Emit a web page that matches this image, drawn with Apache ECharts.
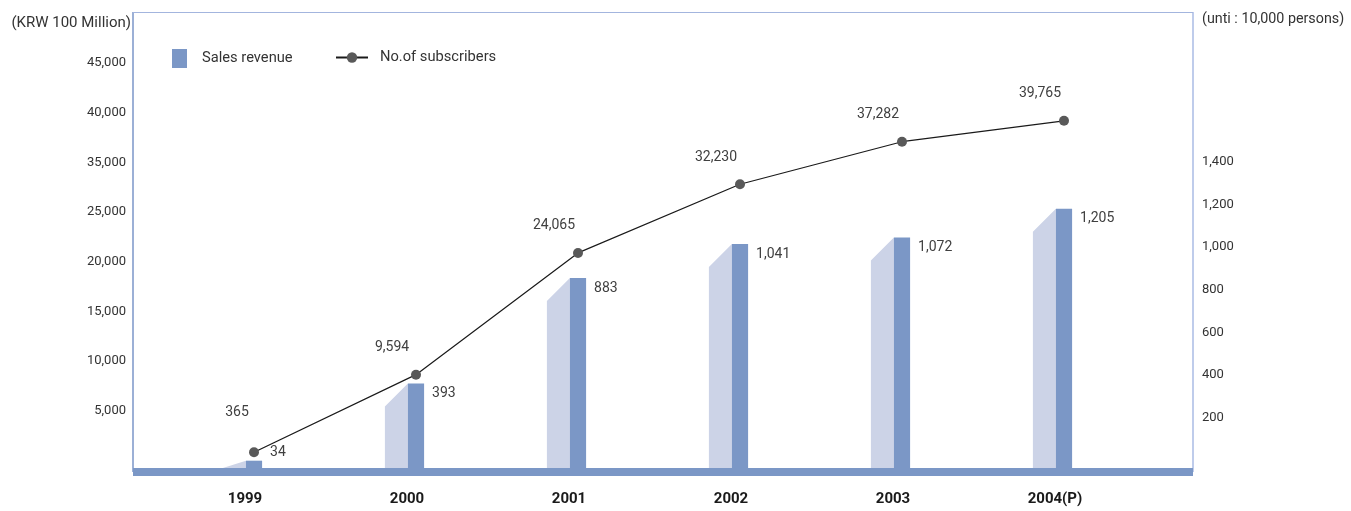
<!DOCTYPE html>
<html>
<head>
<meta charset="utf-8">
<script src="https://cdn.jsdelivr.net/npm/echarts@6/dist/echarts.min.js"></script>
<style>
  html, body { margin: 0; padding: 0; background: #ffffff; }
  #chart { width: 1351px; height: 511px; }
</style>
</head>
<body>
<div id="chart"></div>
<script>
// Years on the horizontal axis
const years = ['1999', '2000', '2001', '2002', '2003', '2004(P)'];
// Sales revenue (bars)
const salesRevenue = [34, 393, 883, 1041, 1072, 1205];
// No. of subscribers (line)
const subscribers = [365, 9594, 24065, 32230, 37282, 39765];
// Printed tick labels of the left scale (5,000 step positions)
const leftTickLabels = ['5,000', '10,000', '15,000', '20,000', '25,000', '35,000', '40,000', '45,000'];
// Printed tick labels of the right scale (200 step positions)
const rightTickLabels = ['200', '400', '600', '800', '1,000', '1,200', '1,400'];

const FONT = 'Roboto, sans-serif';
const DARK = '#7b97c6';
const LIGHT = '#ccd3e7';

const fmt = v => v.toLocaleString('en-US');

const chart = echarts.init(document.getElementById('chart'), null, { renderer: 'canvas' });

const lineData = subscribers.map((v, i) => {
  const item = { value: v };
  if (i === 0) item.label = { offset: [-17, -23] };
  return item;
});

// one side of the frame, drawn as an axis line on its own edge
const frameSide = (color, width) => ({
  show: true, onZero: false, lineStyle: { color: color, width: width, cap: 'butt' }
});

const option = {
  animation: false,
  textStyle: { fontFamily: FONT },
  title: [
    {
      text: '(KRW 100 Million)', right: 1220, top: 16, padding: 0,
      textStyle: { fontFamily: FONT, fontSize: 15, fontWeight: 'normal', color: '#333333' }
    },
    {
      text: '(unti : 10,000 persons)', left: 1202, top: 12, padding: 0,
      textStyle: { fontFamily: FONT, fontSize: 14.3, fontWeight: 'normal', color: '#333333' }
    }
  ],
  legend: [
    {
      data: [{ name: 'Sales revenue', icon: 'rect' }],
      left: 172, top: 49, padding: 0,
      itemWidth: 15, itemHeight: 19,
      textStyle: { fontFamily: FONT, fontSize: 14.7, color: '#333333', padding: [4, 0, 0, 10] }
    },
    {
      data: [{ name: 'No.of subscribers' }],
      left: 335, top: 50, padding: 0,
      itemWidth: 32, itemHeight: 13,
      textStyle: { fontFamily: FONT, fontSize: 14.7, color: '#333333', padding: [4, 0, 0, 7] }
    }
  ],
  grid: [
    // frame with the thick base band
    { left: 133, right: 158, top: 12, bottom: 39 },
    // plotting area for bars and line
    { left: 173, right: 206, top: 12, bottom: 43 },
    // area carrying the printed scales
    { left: 133, right: 158, top: 13.5, bottom: 50.5 }
  ],
  xAxis: [
    {
      gridIndex: 0, type: 'value', min: 0, max: 1, position: 'bottom',
      axisLine: frameSide(DARK, 8),
      axisTick: { show: false }, axisLabel: { show: false }, splitLine: { show: false }
    },
    {
      gridIndex: 1, type: 'category', data: years,
      axisLine: { show: false }, axisTick: { show: false }, splitLine: { show: false },
      axisLabel: {
        margin: 24, fontFamily: FONT, fontSize: 15, fontWeight: 'bold', color: '#1a1a1a',
        padding: [0, 18, 0, 0]
      }
    },
    {
      gridIndex: 2, type: 'value', min: 0, max: 1, show: false
    },
    {
      gridIndex: 0, type: 'value', min: 0, max: 1, position: 'top',
      axisLine: frameSide('#a3b5de', 1),
      axisTick: { show: false }, axisLabel: { show: false }, splitLine: { show: false }
    }
  ],
  yAxis: [
    {
      gridIndex: 0, type: 'value', min: 0, max: 1, position: 'left',
      axisLine: frameSide('#7b96c8', 1.5),
      axisTick: { show: false }, axisLabel: { show: false }, splitLine: { show: false }
    },
    {
      gridIndex: 1, type: 'value', min: 0, max: 2120, show: false, splitLine: { show: false }
    },
    {
      gridIndex: 1, type: 'value', min: -1500, max: 52700, show: false, splitLine: { show: false }
    },
    {
      gridIndex: 2, type: 'value', position: 'left', min: 0, max: 45000, interval: 5000,
      axisLine: { show: false }, axisTick: { show: false }, splitLine: { show: false },
      axisLabel: {
        margin: 7, fontFamily: FONT, fontSize: 13, color: '#333333',
        formatter: v => {
          const i = Math.round(v / 5000) - 1;
          return (v % 5000 === 0 && i >= 0 && i < leftTickLabels.length) ? leftTickLabels[i] : '';
        }
      }
    },
    {
      gridIndex: 2, type: 'value', position: 'right', min: 0, max: 2095, interval: 200,
      axisLine: { show: false }, axisTick: { show: false }, splitLine: { show: false },
      axisLabel: {
        margin: 9, fontFamily: FONT, fontSize: 13, color: '#333333',
        formatter: v => {
          const i = Math.round(v / 200) - 1;
          return (v % 200 === 0 && i >= 0 && i < rightTickLabels.length) ? rightTickLabels[i] : '';
        }
      }
    },
    {
      gridIndex: 0, type: 'value', min: 0, max: 1, position: 'right',
      axisLine: frameSide('#bfcceb', 2),
      axisTick: { show: false }, axisLabel: { show: false }, splitLine: { show: false }
    }
  ],
  series: [
    {
      name: 'Sales revenue',
      type: 'custom',
      xAxisIndex: 1, yAxisIndex: 1,
      itemStyle: { color: DARK },
      z: 2,
      data: salesRevenue.map((v, i) => [i, v]),
      renderItem: (params, api) => {
        const idx = api.value(0);
        const val = api.value(1);
        const top = api.coord([idx, val]);
        const base = api.coord([idx, 0]);
        const band = api.size([1, 0])[0];
        const darkW = band * 0.1;
        const lightW = band * 0.142;
        const xL = top[0] - darkW / 2;
        const xR = top[0] + darkW / 2;
        const yT = top[1];
        const yB = base[1];
        const lightTop = Math.min(yT + lightW, yB);
        return {
          type: 'group',
          children: [
            {
              type: 'polygon',
              shape: { points: [[xL - lightW, yB], [xL - lightW, lightTop], [xL, yT], [xL, yB]] },
              style: { fill: LIGHT }
            },
            {
              type: 'rect',
              shape: { x: xL, y: yT, width: darkW, height: yB - yT },
              style: { fill: DARK }
            },
            {
              type: 'text',
              x: xR + 8,
              y: Math.min(yT + 10, yB - 16),
              style: {
                text: fmt(val), fill: '#404040', fontFamily: FONT, fontSize: 14,
                align: 'left', verticalAlign: 'middle'
              }
            }
          ]
        };
      }
    },
    {
      name: 'No.of subscribers',
      type: 'line',
      xAxisIndex: 1, yAxisIndex: 2,
      z: 5,
      data: lineData,
      symbol: 'circle',
      symbolSize: 10,
      itemStyle: { color: '#595959' },
      lineStyle: { color: '#1a1a1a', width: 1.2 },
      label: {
        show: true, position: 'top', offset: [-24, -10],
        fontFamily: FONT, fontSize: 14, color: '#404040',
        formatter: p => fmt(p.value)
      }
    }
  ]
};

chart.setOption(option);
</script>
</body>
</html>
